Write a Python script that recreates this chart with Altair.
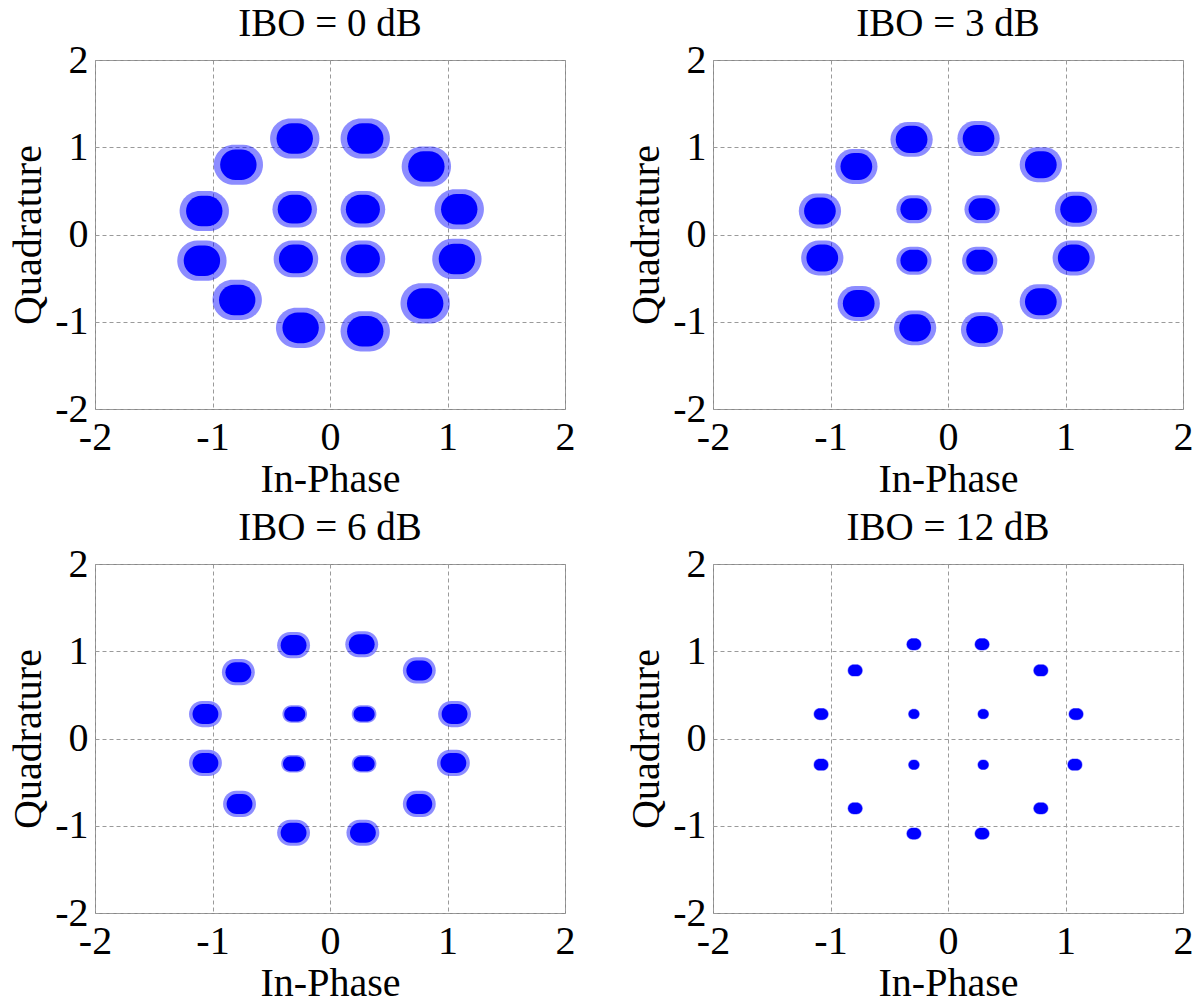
import altair as alt
import pandas as pd

# ---------------- data ----------------
titles = ["IBO = 0 dB", "IBO = 3 dB", "IBO = 6 dB", "IBO = 12 dB"]
ring = ["inner"] * 4 + ["outer"] * 12

# cluster centres (In-Phase, Quadrature): 4 inner points, then 12 outer points
i_ibo0 = [0.28, -0.30, -0.29, 0.28, 1.10, 0.82, 0.30, -0.30, -0.78, -1.07, -1.09, -0.79, -0.25, 0.30, 0.81, 1.08]
q_ibo0 = [0.29, 0.29, -0.28, -0.28, 0.29, 0.78, 1.10, 1.10, 0.80, 0.27, -0.30, -0.75, -1.07, -1.11, -0.79, -0.28]

i_ibo3 = [0.29, -0.29, -0.29, 0.27, 1.09, 0.79, 0.26, -0.31, -0.78, -1.09, -1.07, -0.76, -0.28, 0.29, 0.79, 1.07]
q_ibo3 = [0.29, 0.29, -0.30, -0.30, 0.29, 0.80, 1.10, 1.09, 0.78, 0.27, -0.27, -0.79, -1.07, -1.09, -0.77, -0.27]

i_ibo6 = [0.29, -0.30, -0.31, 0.29, 1.06, 0.76, 0.27, -0.31, -0.78, -1.06, -1.06, -0.77, -0.31, 0.28, 0.76, 1.05]
q_ibo6 = [0.28, 0.28, -0.29, -0.29, 0.28, 0.78, 1.08, 1.07, 0.76, 0.28, -0.28, -0.75, -1.08, -1.08, -0.75, -0.28]

i_ibo12 = [0.30, -0.29, -0.29, 0.30, 1.09, 0.79, 0.29, -0.29, -0.79, -1.08, -1.08, -0.79, -0.29, 0.29, 0.79, 1.08]
q_ibo12 = [0.28, 0.28, -0.30, -0.30, 0.28, 0.78, 1.08, 1.08, 0.78, 0.28, -0.30, -0.80, -1.09, -1.09, -0.80, -0.30]

centres_i = [i_ibo0, i_ibo3, i_ibo6, i_ibo12]
centres_q = [q_ibo0, q_ibo3, q_ibo6, q_ibo12]

# cluster spread (full width / height, data units) of the dense core and of the whole cloud
core_outer_w = [0.31, 0.27, 0.22, 0.12]
core_outer_h = [0.35, 0.31, 0.23, 0.13]
core_inner_w = [0.29, 0.23, 0.18, 0.09]
core_inner_h = [0.33, 0.25, 0.17, 0.11]
cloud_outer_w = [0.42, 0.36, 0.28, 0.13]
cloud_outer_h = [0.46, 0.40, 0.30, 0.14]
cloud_inner_w = [0.38, 0.30, 0.21, 0.10]
cloud_inner_h = [0.42, 0.32, 0.20, 0.12]

tick_values = [-2, -1, 0, 1, 2]

# ---------------- chart ----------------
FONT = "Liberation Serif"
BLUE = "#0000ff"


def frame(k):
    rows = []
    for j in range(16):
        ci, cq = centres_i[k][j], centres_q[k][j]
        if ring[j] == "outer":
            cw, ch, hw, hh = core_outer_w[k], core_outer_h[k], cloud_outer_w[k], cloud_outer_h[k]
        else:
            cw, ch, hw, hh = core_inner_w[k], core_inner_h[k], cloud_inner_w[k], cloud_inner_h[k]
        rows.append({
            "i": ci, "q": cq,
            "cx1": ci - cw / 2, "cx2": ci + cw / 2, "cy1": cq - ch / 2, "cy2": cq + ch / 2,
            "hx1": ci - hw / 2, "hx2": ci + hw / 2, "hy1": cq - hh / 2, "hy2": cq + hh / 2,
        })
    return pd.DataFrame(rows)


sc = alt.Scale(domain=[-2, 2], nice=False, zero=False)
ax_x = alt.Axis(values=tick_values, title="In-Phase", labelExpr="datum.value")
ax_y = alt.Axis(values=tick_values, title="Quadrature", labelExpr="datum.value")


def panel(k):
    df = frame(k)
    base = alt.Chart(df)
    halo = base.mark_rect(color=BLUE, opacity=0.45, cornerRadius=60).encode(
        x=alt.X("hx1:Q", scale=sc, axis=ax_x),
        x2="hx2:Q",
        y=alt.Y("hy1:Q", scale=sc, axis=ax_y),
        y2="hy2:Q",
    )
    core = base.mark_rect(color=BLUE, opacity=1, cornerRadius=60).encode(
        x=alt.X("cx1:Q", scale=sc, axis=ax_x),
        x2="cx2:Q",
        y=alt.Y("cy1:Q", scale=sc, axis=ax_y),
        y2="cy2:Q",
    )
    return alt.layer(halo, core).properties(
        width=470, height=349, title=alt.TitleParams(titles[k], frame="group")
    )


chart = alt.concat(
    panel(0), panel(1), panel(2), panel(3),
    columns=2,
    spacing={"row": 155, "column": 148},
    bounds="flush",
).properties(
    padding={"left": 0, "top": -4, "right": -2, "bottom": -5}
).configure_axis(
    labelFont=FONT, titleFont=FONT,
    labelFontSize=40, titleFontSize=40,
    titleFontWeight="normal", labelColor="black", titleColor="black",
    ticks=False, tickSize=0, domain=False,
    grid=True, gridColor="#9a9a9a", gridDash=[4, 3], gridWidth=1,
    labelFlush=False, labelOverlap=False,
).configure_axisX(
    labelPadding=8, titlePadding=2
).configure_axisY(
    labelPadding=7, titlePadding=6
).configure_title(
    font=FONT, fontSize=39, fontWeight="normal", color="black", offset=-4
).configure_view(
    stroke="#888888", strokeWidth=1
)

chart.save("out.html", embed_options={"renderer": "svg", "actions": False})
